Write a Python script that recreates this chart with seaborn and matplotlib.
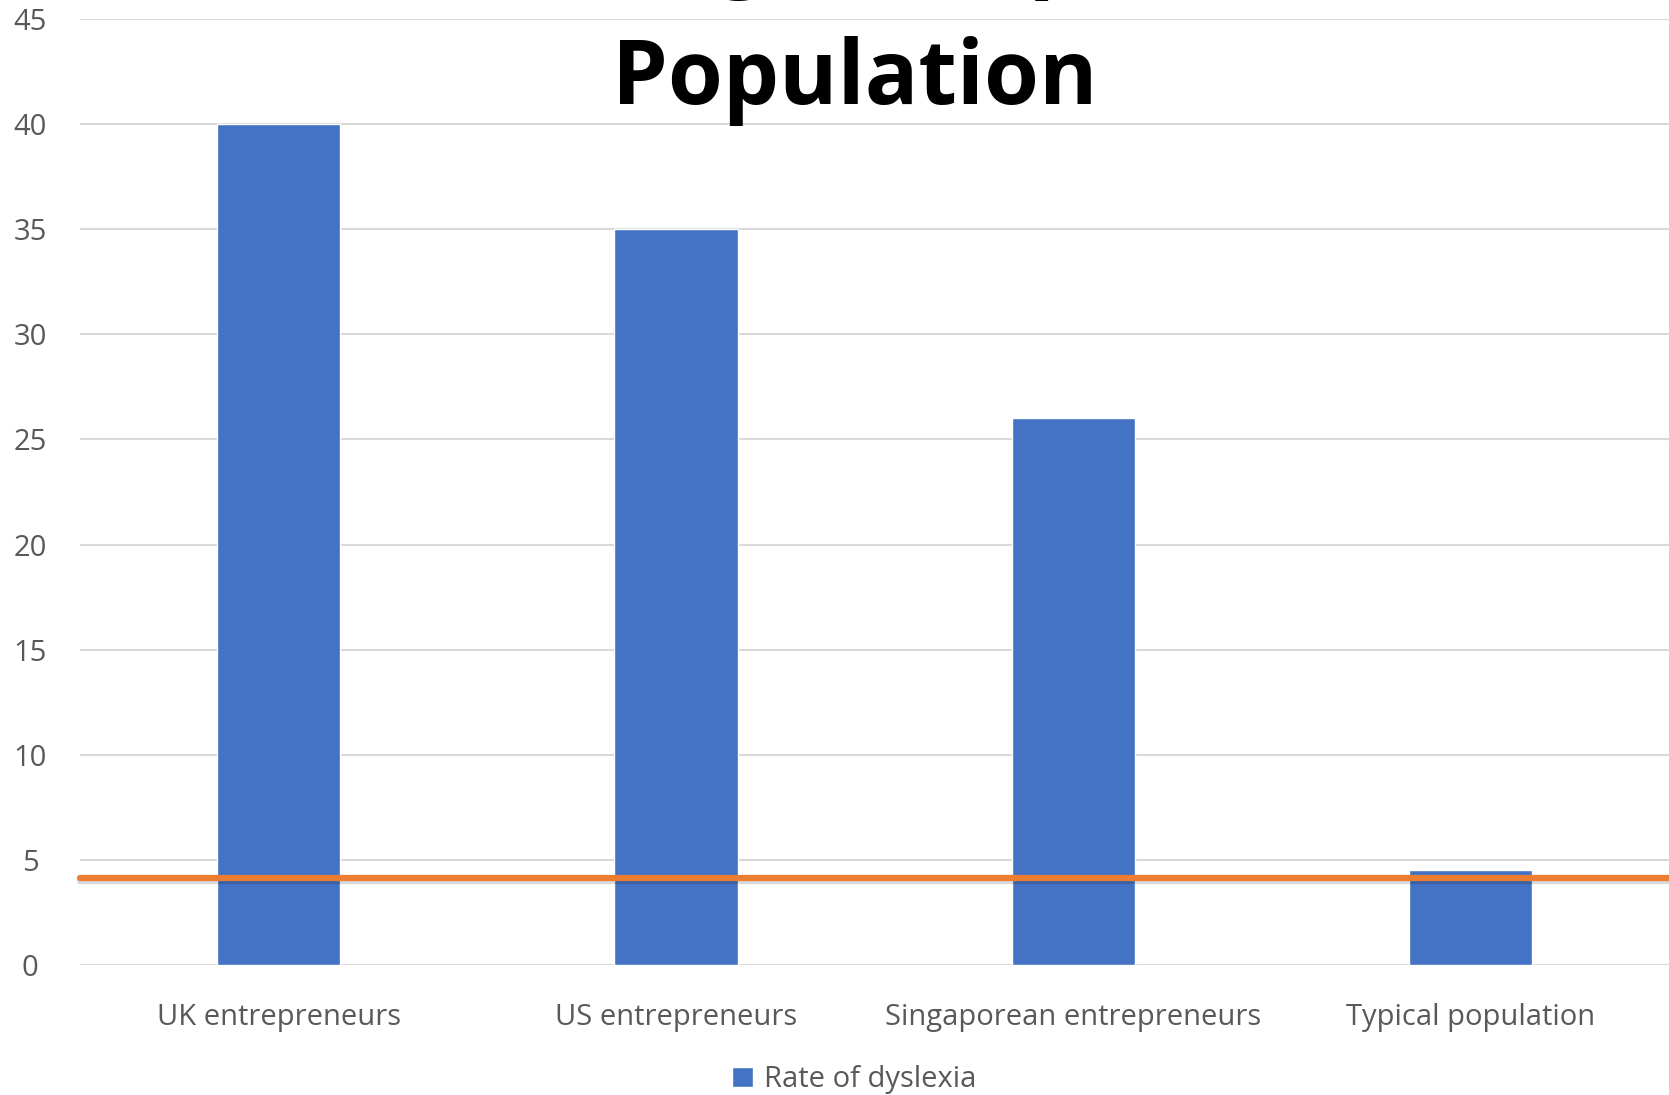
import matplotlib
matplotlib.use("Agg")
import matplotlib.pyplot as plt
import matplotlib.patheffects as pe
import seaborn as sns

categories = ["UK entrepreneurs", "US entrepreneurs",
              "Singaporean entrepreneurs", "Typical population"]
rates = [40, 35, 26, 4.5]
typical_rate = 4.15
y_ticks = [0, 5, 10, 15, 20, 25, 30, 35, 40, 45]
title = "Dyslexia Rates Among Entrepreneurs vs General\nPopulation"


def main():
    sns.set_theme(style="white")
    plt.rcParams["font.family"] = ["Open Sans", "DejaVu Sans"]

    fig = plt.figure(figsize=(16.69, 10.95), dpi=100)
    ax = fig.add_axes([0.048, 0.1187, 0.952, 0.8639])

    sns.barplot(x=categories, y=rates, ax=ax, color="#4472C4", width=0.31,
                saturation=1, label="Rate of dyslexia", zorder=2)

    ax.axhline(typical_rate, color="#ED7D31", lw=4.5, zorder=3, clip_on=False,
               path_effects=[pe.SimpleLineShadow(offset=(0, -2), alpha=0.15,
                                                 shadow_color="black"),
                             pe.Normal()])

    ax.set_xlim(-0.5, 3.5)
    ax.set_ylim(0, 45)
    ax.set_yticks(y_ticks)
    ax.yaxis.grid(True, color="#D9D9D9", lw=1.5, zorder=0)
    ax.set_axisbelow(True)
    for s in ax.spines.values():
        s.set_visible(False)
    ax.tick_params(axis="both", length=0, labelsize=21, colors="#595959")
    ax.tick_params(axis="x", pad=27)
    ax.tick_params(axis="y", pad=36)
    for lab in ax.get_yticklabels():
        lab.set_horizontalalignment("center")

    fig.text(0.512, 0.885, title, ha="center", va="bottom", fontsize=64,
             fontweight="bold", color="black", linespacing=1.52)

    handles, labels = ax.get_legend_handles_labels()
    if ax.get_legend() is not None:
        ax.get_legend().remove()
    fig.legend(handles, labels, loc="center", bbox_to_anchor=(0.512, 0.014),
               frameon=False, fontsize=21, handlelength=0.7, handleheight=0.7,
               handletextpad=0.4, labelcolor="#595959")

    fig.savefig("out.png", dpi=100)


if __name__ == "__main__":
    main()
